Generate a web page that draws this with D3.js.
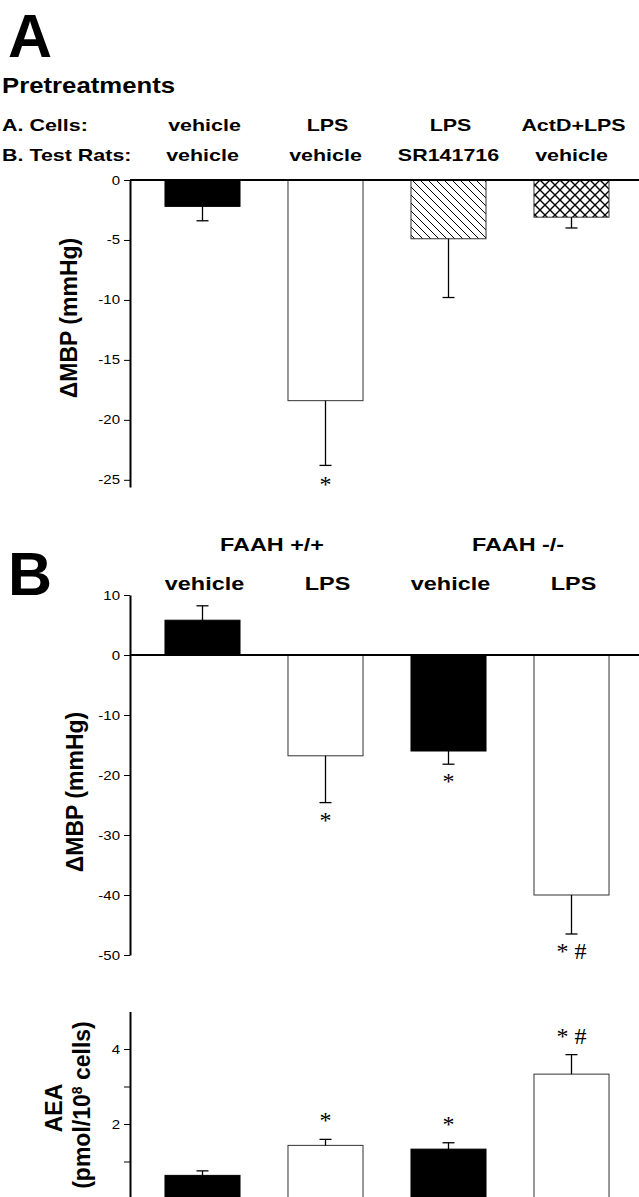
<!DOCTYPE html>
<html>
<head>
<meta charset="utf-8">
<script src="https://cdn.jsdelivr.net/npm/d3@7"></script>
<style>
  body { margin: 0; background: #fff; }
  svg { display: block; }
  text { font-family: "Liberation Sans", Arial, sans-serif; fill: #000; }
</style>
</head>
<body>
<svg id="fig" width="639" height="1197"></svg>
<script>
// panel A: pretreatments
const cellsLabels = ["vehicle", "LPS", "LPS", "ActD+LPS"];
const ratsLabels = ["vehicle", "vehicle", "SR141716", "vehicle"];
const aMeans = [-2.2, -18.4, -4.9, -3.1];
const aSem = [1.2, 5.4, 4.9, 0.9];
const aSig = ["", "*", "", ""];
const aTicks = [0, -5, -10, -15, -20, -25];

// panel B: FAAH mice
const bGroups = ["FAAH +/+", "FAAH -/-"];
const bLabels = ["vehicle", "LPS", "vehicle", "LPS"];
const bMeans = [5.8, -16.8, -16.0, -40.0];
const bSem = [2.4, 7.8, 2.2, 6.5];
const bSig = ["", "*", "*", "* #"];
const bTicks = [10, 0, -10, -20, -30, -40, -50];

// AEA content
const aeaMeans = [0.63, 1.43, 1.33, 3.33];
const aeaSem = [0.12, 0.16, 0.17, 0.52];
const aeaSig = ["", "*", "*", "* #"];
const aeaTicks = [1, 2, 3, 4];
const aeaLabelled = [2, 4];

const svg = d3.select("#fig");
const axisX = 130;

const x = d3.scaleBand()
  .domain(d3.range(4))
  .range([141, 633])
  .paddingInner(0.39)
  .paddingOuter(0.195);
const bw = x.bandwidth();
const cx = i => x(i) + bw / 2;

// patterns
const defs = svg.append("defs");
const hatch = defs.append("pattern").attr("id", "hatch")
  .attr("patternUnits", "userSpaceOnUse").attr("width", 8).attr("height", 8);
hatch.append("rect").attr("width", 8).attr("height", 8).attr("fill", "#fff");
hatch.append("path").attr("d", "M0,0L8,8M-2,6L2,10M6,-2L10,2")
  .attr("stroke", "#000").attr("stroke-width", 1);
const cross = defs.append("pattern").attr("id", "cross")
  .attr("patternUnits", "userSpaceOnUse").attr("width", 10).attr("height", 10);
cross.append("rect").attr("width", 10).attr("height", 10).attr("fill", "#fff");
cross.append("path").attr("d", "M0,0L10,10M10,0L0,10")
  .attr("stroke", "#000").attr("stroke-width", 1.4);

// text is a bit wide in the original, so stretch it horizontally
function htext(px, py, txt, size, sx, anchor) {
  return svg.append("text")
    .attr("transform", `translate(${px},${py}) scale(${sx},1)`)
    .attr("text-anchor", anchor || "start")
    .attr("font-size", size).attr("font-weight", "bold")
    .text(txt);
}

function drawAxis(y, ticks, fmt) {
  const g = svg.append("g").attr("transform", `translate(${axisX},0)`)
    .call(d3.axisLeft(y).tickValues(ticks).tickSize(6).tickSizeOuter(0).tickPadding(4).tickFormat(fmt));
  g.select(".domain").attr("stroke-width", 2);
  g.selectAll(".tick line").attr("stroke-width", 1);
  g.selectAll(".tick text")
    .attr("font-size", 12.5)
    .attr("font-family", "Liberation Sans, Arial, sans-serif")
    .attr("x", 0)
    .attr("transform", "translate(-10,0) scale(1.2,1)");
  return g;
}

function drawBars(y, means, sem, fills, sig, sigOff) {
  const y0 = y(0);
  const g = svg.append("g");
  g.selectAll("rect").data(means).join("rect")
    .attr("x", (d, i) => x(i))
    .attr("width", bw)
    .attr("y", d => Math.min(y(d), y0))
    .attr("height", d => Math.abs(y(d) - y0))
    .attr("fill", (d, i) => fills[i])
    .attr("stroke", (d, i) => fills[i] === "#000" ? "#000" : "#333")
    .attr("stroke-width", 1);
  const ends = means.map((m, i) => m + Math.sign(m) * sem[i]);
  g.selectAll("line.err").data(means).join("line").attr("class", "err")
    .attr("x1", (d, i) => cx(i)).attr("x2", (d, i) => cx(i))
    .attr("y1", d => y(d)).attr("y2", (d, i) => y(ends[i]))
    .attr("stroke", "#000").attr("stroke-width", 1.3);
  g.selectAll("line.cap").data(means).join("line").attr("class", "cap")
    .attr("x1", (d, i) => cx(i) - 6).attr("x2", (d, i) => cx(i) + 6)
    .attr("y1", (d, i) => y(ends[i])).attr("y2", (d, i) => y(ends[i]))
    .attr("stroke", "#000").attr("stroke-width", 1.3);
  g.selectAll("text.sig").data(sig).join("text").attr("class", "sig")
    .attr("x", (d, i) => cx(i))
    .attr("y", (d, i) => y(ends[i]) + sigOff)
    .attr("text-anchor", "middle")
    .attr("font-size", 24)
    .style("font-family", "'Liberation Serif', 'Times New Roman', serif")
    .text(d => d);
  return g;
}

function zeroLine(y) {
  svg.append("line").attr("x1", axisX).attr("x2", 639)
    .attr("y1", y(0)).attr("y2", y(0))
    .attr("stroke", "#000").attr("stroke-width", 2);
}

function yLabel(px, py, txt, size) {
  return svg.append("text")
    .attr("transform", `translate(${px},${py}) rotate(-90)`)
    .attr("text-anchor", "middle")
    .attr("font-weight", "bold").attr("font-size", size)
    .text(txt);
}

// ---------- panel A ----------
htext(8, 57, "A", 61, 1);
htext(2, 93, "Pretreatments", 22, 1.17);
htext(2, 131, "A. Cells:", 16.5, 1.3);
htext(2, 161, "B. Test Rats:", 16.5, 1.3);
cellsLabels.forEach((d, i) => htext(cx(i) + 2, 131, d, 16.5, 1.3, "middle"));
ratsLabels.forEach((d, i) => htext(cx(i), 161, d, 16.5, 1.3, "middle"));

const yA = d3.scaleLinear().domain([0, -25.6]).range([180, 487]);
drawBars(yA, aMeans, aSem, ["#000", "#fff", "url(#hatch)", "url(#cross)"], aSig, 27);
zeroLine(yA);
drawAxis(yA, aTicks, d => String(d));
yLabel(77, 318, "\u0394MBP (mmHg)", 23);

// ---------- panel B ----------
htext(8, 595, "B", 61, 1);
bGroups.forEach((d, i) => htext((cx(2 * i) + cx(2 * i + 1)) / 2 + 8, 551, d, 18, 1.3, "middle"));
bLabels.forEach((d, i) => htext(cx(i) + 2, 590, d, 18, 1.3, "middle"));

const yB = d3.scaleLinear().domain([10, -50]).range([595, 955]);
drawBars(yB, bMeans, bSem, ["#000", "#fff", "#000", "#fff"], bSig, 25);
zeroLine(yB);
drawAxis(yB, bTicks, d => String(d));
yLabel(83, 792, "\u0394MBP (mmHg)", 23);

// ---------- AEA ----------
const yC = d3.scaleLinear().domain([0, 5]).range([1199, 1011.5]);
drawBars(yC, aeaMeans, aeaSem, ["#000", "#fff", "#000", "#fff"], aeaSig, -11);
drawAxis(yC, aeaTicks, d => aeaLabelled.includes(d) ? String(d) : "");
yLabel(62, 1108, "AEA", 23);
const sub = yLabel(90, 1105, "(pmol/10", 23);
sub.append("tspan").attr("baseline-shift", "super").attr("font-size", 14).text("8");
sub.append("tspan").text(" cells)");
</script>
</body>
</html>
